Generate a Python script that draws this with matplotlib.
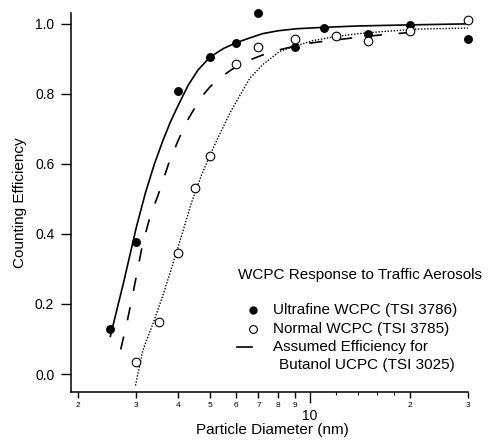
import matplotlib
matplotlib.use('Agg')
import matplotlib.pyplot as plt
from matplotlib.lines import Line2D
from matplotlib.ticker import FixedLocator, NullFormatter

plt.rcParams['font.family'] = ['Liberation Sans', 'DejaVu Sans']

# measured points
uf_diam = [2.5, 3, 4, 5, 6, 7, 9, 11, 15, 20, 30]
uf_eff = [0.128, 0.376, 0.809, 0.906, 0.945, 1.032, 0.934, 0.989, 0.972, 0.996, 0.957]
nw_diam = [3, 3.5, 4, 4.5, 5, 6, 7, 9, 12, 15, 20, 30]
nw_eff = [0.035, 0.148, 0.347, 0.531, 0.622, 0.885, 0.934, 0.958, 0.966, 0.951, 0.980, 1.011]

# fitted curves
uf_fit_d = [2.5, 2.75, 3.0, 3.2, 3.4, 3.6, 3.8, 4.0, 4.3, 4.6, 5.0, 5.5, 6.0, 6.6, 7.2, 8.0,
            9.1, 11, 14, 20, 30]
uf_fit_e = [0.105, 0.265, 0.42, 0.52, 0.60, 0.665, 0.72, 0.765, 0.825, 0.868, 0.905, 0.93,
            0.946, 0.96, 0.972, 0.98, 0.986, 0.99, 0.994, 0.997, 1.0]
bu_fit_d = [2.69, 2.8, 2.9, 3.0, 3.13, 3.3, 3.5, 3.75, 4.0, 4.25, 4.5, 4.75, 5.0, 5.35, 5.8,
            6.6, 7.2, 8.1, 9, 10, 11, 12.2, 13.5, 15.5, 17, 20]
bu_fit_e = [0.07, 0.14, 0.21, 0.28, 0.37, 0.45, 0.515, 0.6, 0.665, 0.72, 0.76, 0.795, 0.82,
            0.845, 0.869, 0.897, 0.911, 0.926, 0.936, 0.945, 0.95, 0.955, 0.96, 0.966, 0.97, 0.975]
nw_fit_d = [2.98, 3.14, 3.37, 3.61, 3.87, 4.15, 4.4, 4.7, 5.0, 5.35, 5.74, 6.15, 6.6, 7.2, 8.1,
            9.0, 10.2, 12, 14, 16.6, 21, 30]
nw_fit_e = [-0.033, 0.069, 0.145, 0.226, 0.316, 0.41, 0.49, 0.565, 0.625, 0.685, 0.745, 0.795,
            0.845, 0.883, 0.921, 0.936, 0.952, 0.964, 0.972, 0.978, 0.985, 0.988]

x_ticks = [2, 3, 4, 5, 6, 7, 8, 9, 10, 20, 30]
x_labels = ['2', '3', '4', '5', '6', '7', '8', '9', '', '2', '3']
x_minor = [12, 14, 16, 18]
y_ticks = [0.0, 0.2, 0.4, 0.6, 0.8, 1.0]

W, H = 490, 446
fig = plt.figure(figsize=(W / 100, H / 100), dpi=100)
ax = fig.add_axes([71 / W, 1 - 392 / H, 397 / W, 379 / H])


def fx(px):
    return px / W


def fy(py):
    return 1 - py / H


ax.plot(uf_fit_d, uf_fit_e, color='black', lw=1.2, solid_capstyle='butt')
ax.plot(bu_fit_d, bu_fit_e, color='black', lw=1.2, linestyle=(0, (8, 10)))
ax.plot(nw_fit_d, nw_fit_e, color='black', lw=1.0, linestyle=(0, (1, 1.2)))
ax.plot(uf_diam, uf_eff, 'o', color='black', ms=5.4, clip_on=False, zorder=4)
ax.plot(nw_diam, nw_eff, 'o', mfc='white', mec='black', mew=0.8, ms=6.2, clip_on=False, zorder=4)

ax.set_xscale('log')
ax.set_xlim(1.905, 30)
ax.set_ylim(-0.0514, 1.031)

ax.xaxis.set_major_locator(FixedLocator(x_ticks))
ax.set_xticklabels(x_labels, fontsize=6)
ax.xaxis.set_minor_locator(FixedLocator(x_minor))
ax.xaxis.set_minor_formatter(NullFormatter())
ax.tick_params(axis='x', which='major', direction='out', length=4, width=1.0, pad=3.5)
ax.tick_params(axis='x', which='minor', direction='out', length=1.8, width=0.8)
# the decade tick is longer and has its own larger label
t10 = ax.xaxis.get_major_ticks()[x_ticks.index(10)]
t10.tick1line.set_markersize(8)
ax.text(10, -0.0745, '10', transform=ax.get_xaxis_transform(), ha='center', va='baseline',
        fontsize=10)

ax.set_yticks(y_ticks)
ax.set_yticklabels(['%.1f' % v for v in y_ticks], fontsize=10)
ax.tick_params(axis='y', direction='out', length=7, width=1.0, pad=5)

for side in ['top', 'right']:
    ax.spines[side].set_visible(False)
for side in ['left', 'bottom']:
    ax.spines[side].set_linewidth(1.1)

ax.set_xlabel('Particle Diameter (nm)', fontsize=11)
ax.set_ylabel('Counting Efficiency', fontsize=11)
ax.xaxis.set_label_coords(0.508, -0.083)
ax.yaxis.set_label_coords(-0.110, 0.5)

# legend drawn by hand
fig.text(fx(238), fy(275), 'WCPC Response to Traffic Aerosols', fontsize=11, va='center')
fig.add_artist(Line2D([fx(252.7)], [fy(310)], marker='o', color='black', ms=5.0, lw=0))
fig.add_artist(Line2D([fx(252.7)], [fy(328.5)], marker='o', mfc='white', mec='black',
                      mew=0.8, ms=5.6, lw=0))
fig.add_artist(Line2D([fx(237), fx(252)], [fy(346.7), fy(346.7)], color='black', lw=1.2))
fig.text(fx(273), fy(310), 'Ultrafine WCPC (TSI 3786)', fontsize=11, va='center')
fig.text(fx(273), fy(328.5), 'Normal WCPC (TSI 3785)', fontsize=11, va='center')
fig.text(fx(273), fy(347), 'Assumed Efficiency for', fontsize=11, va='center')
fig.text(fx(279), fy(364.5), 'Butanol UCPC (TSI 3025)', fontsize=11, va='center')

fig.savefig('out.png', dpi=100)
